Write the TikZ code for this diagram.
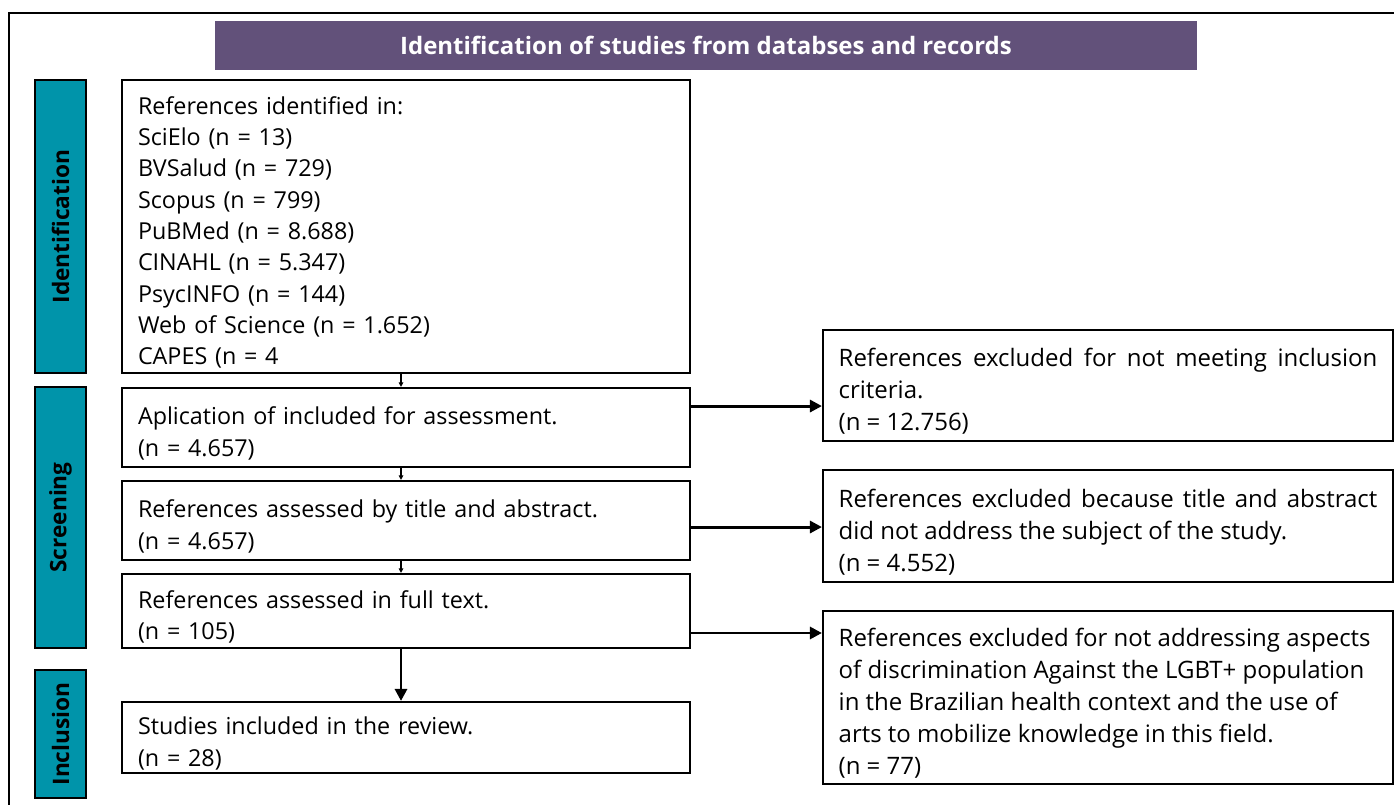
\documentclass[tikz,border=0pt]{standalone}
\usepackage{fontspec}
\setmainfont{Open Sans}
\usetikzlibrary{arrows.meta,calc}
\definecolor{headpurple}{RGB}{98,81,122}
\definecolor{phaseteal}{RGB}{0,148,170}
\tikzset{
    frameline/.style={line width=1.5pt},
    headbar/.style={fill=headpurple,draw=none,text=white,font=\fontsize{18}{21}\selectfont\bfseries,
        minimum width=736.5pt,minimum height=36.75pt,inner sep=0pt},
    phasebar/.style={fill=phaseteal,draw=black,line width=1.6pt,rotate=90,
        font=\fontsize{17}{20}\selectfont\bfseries,minimum height=38.25pt,inner sep=0pt},
    stagebox/.style={draw=black,line width=1.6pt,text width=402pt,inner xsep=12pt,inner ysep=0pt,
        align=left,font=\fontsize{17.5}{23.5}\selectfont,execute at begin node={\rule{0pt}{22.5pt}}},
    exclbox/.style={draw=black,line width=1.6pt,text width=404pt,inner xsep=11.75pt,inner ysep=0pt,
        align=justify,font=\fontsize{18}{24}\selectfont,execute at begin node={\rule{0pt}{22.5pt}}},
    flowarrow/.style={-{Triangle[length=9pt,width=9pt]},line width=2.2pt},
    thinarrow/.style={-{Triangle[length=3.5pt,width=3.5pt]},line width=0.8pt}
}

\begin{document}
\begin{tikzpicture}[x=0.75pt,y=-0.75pt]
    \useasboundingbox (0,0) rectangle (1394,805);
    % Frame
    \draw[frameline] (9,810) -- (9,13) -- (1400,13);
    % Header
    \node[headbar] (head) at (706,45.5) {Identification of studies from databses and records};
    % Phases
    \node[phasebar,minimum width=219.75pt] (ident) at (60.5,226.5) {Identification};
    \node[phasebar,minimum width=195.75pt] (screen) at (60.5,517.5) {Screening};
    \node[phasebar,minimum width=96pt] (incl) at (60.5,734) {Inclusion};
    % Stage boxes
    \node[stagebox,minimum height=219.75pt] (b1) at (406,226.5) {References identified in:\\
        SciElo (n = 13)\\BVSalud (n = 729)\\Scopus (n = 799)\\PuBMed (n = 8.688)\\
        CINAHL (n = 5.347)\\PsycINFO (n = 144)\\Web of Science (n = 1.652)\\CAPES (n = 4};
    \node[stagebox,minimum height=59.25pt] (b2) at (406,427.5) {Aplication of included for assessment.\\(n = 4.657)};
    \node[stagebox,minimum height=59.25pt] (b3) at (406,520.5) {References assessed by title and abstract.\\(n = 4.657)};
    \node[stagebox,minimum height=55.5pt] (b4) at (406,611) {References assessed in full text.\\(n = 105)};
    \node[stagebox,minimum height=53.25pt] (b5) at (406,737.5) {Studies included in the review.\\(n = 28)};
    % Excluded
    \node[exclbox,minimum height=83.25pt] (r1) at (1108,385.5) {References excluded for not meeting inclusion\linebreak
        criteria.\\(n = 12.756)};
    \node[exclbox,minimum height=84pt] (r2) at (1108,526) {References excluded because title and abstract\linebreak
        did not address the subject of the study.\\(n = 4.552)};
    \node[exclbox,minimum height=129.75pt] (r3) at (1108,697.5) {References excluded for not addressing aspects\\
        of discrimination Against the LGBT+ population\\in the Brazilian health context and the use of\\
        arts to mobilize knowledge in this field.\\(n = 77)};
    % Arrows down
    \draw[thinarrow] ([xshift=-3.75pt]b1.south) -- ([xshift=-3.75pt]b2.north);
    \draw[thinarrow] ([xshift=-3.75pt]b2.south) -- ([xshift=-3.75pt]b3.north);
    \draw[thinarrow] ([xshift=-3.75pt]b3.south) -- ([xshift=-3.75pt]b4.north);
    \draw[flowarrow] ([xshift=-3.75pt]b4.south) -- ([xshift=-3.75pt]b5.north);
    % Arrows right
    \coordinate (a2) at ([yshift=16.1pt]b2.east);
    \coordinate (a3) at ([yshift=-4.9pt]b3.east);
    \coordinate (a4) at ([yshift=-16.5pt]b4.east);
    \draw[flowarrow] (a2) -- (a2 -| r1.west);
    \draw[flowarrow] (a3) -- (a3 -| r2.west);
    \draw[flowarrow] (a4) -- (a4 -| r3.west);
\end{tikzpicture}
\end{document}
